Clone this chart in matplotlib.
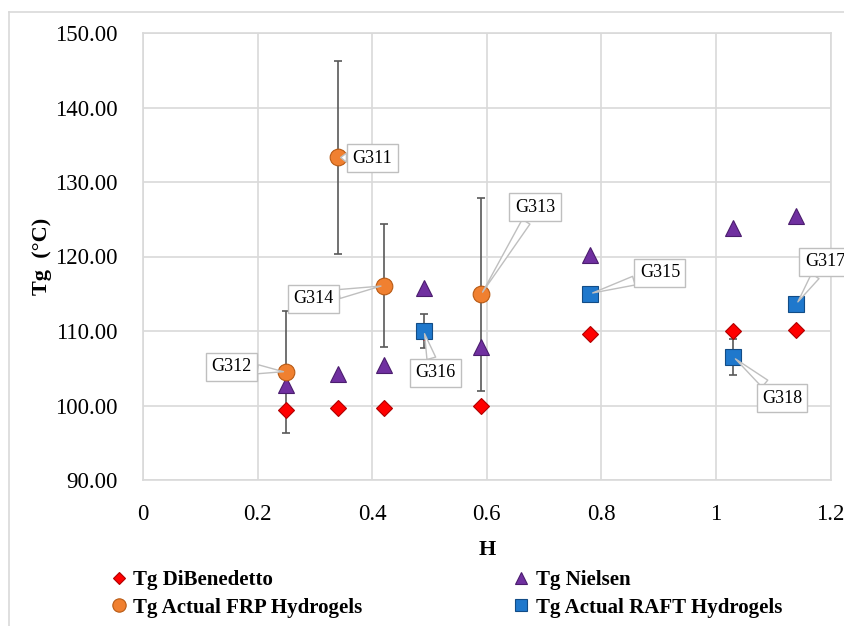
import matplotlib
matplotlib.use("Agg")
import matplotlib.pyplot as plt
from matplotlib.lines import Line2D
from matplotlib.ticker import FormatStrFormatter, FuncFormatter

plt.rcParams['font.family'] = ['Liberation Serif', 'DejaVu Serif']

# data
h_dib = [0.25, 0.34, 0.42, 0.49, 0.59, 0.78, 1.03, 1.14]
tg_dib = [99.4, 99.7, 99.7, 109.9, 100.0, 109.6, 110.0, 110.1]

h_niel = [0.25, 0.34, 0.42, 0.49, 0.59, 0.78, 1.03, 1.14]
tg_niel = [102.8, 104.2, 105.5, 115.8, 107.9, 120.2, 123.8, 125.4]

h_frp = [0.25, 0.34, 0.42, 0.59]
tg_frp = [104.5, 133.3, 116.1, 114.9]
err_frp = [8.2, 13.0, 8.2, 13.0]
names_frp = ['G312', 'G311', 'G314', 'G313']

h_raft = [0.49, 0.78, 1.03, 1.14]
tg_raft = [110.0, 115.0, 106.5, 113.6]
err_raft = [2.3, 0.0, 2.4, 0.0]
names_raft = ['G316', 'G315', 'G318', 'G317']

# where the callout boxes sit (data coords)
box_frp = [(0.155, 105.2), (0.40, 133.2), (0.297, 114.3), (0.684, 126.6)]
box_raft = [(0.51, 104.4), (0.902, 117.8), (1.115, 101.0), (1.19, 119.3)]

fig = plt.figure(figsize=(8.45, 6.26), dpi=100)
ax = fig.add_axes([143/845, 1-480/626, 687.7/845, 447/626])

grid_c = '#D9D9D9'
err_c = '#595959'

ax.errorbar(h_frp, tg_frp, yerr=err_frp, fmt='none', ecolor=err_c, elinewidth=1.2,
            capsize=3, capthick=1.2, zorder=2)
ax.errorbar(h_raft, tg_raft, yerr=err_raft, fmt='none', ecolor=err_c, elinewidth=1.2,
            capsize=3, capthick=1.2, zorder=2)

l1, = ax.plot(h_dib, tg_dib, 'D', ms=8, mfc='#FF0000', mec='#B00000', mew=0.8,
              ls='none', zorder=3, label='Tg DiBenedetto')
l2, = ax.plot(h_niel, tg_niel, '^', ms=11.5, mfc='#7030A0', mec='#4B1D6E', mew=0.8,
              ls='none', zorder=4, label='Tg Nielsen')
l3, = ax.plot(h_frp, tg_frp, 'o', ms=12, mfc='#F08030', mec='#B85A14', mew=0.8,
              ls='none', zorder=5, label='Tg Actual FRP Hydrogels')
l4, = ax.plot(h_raft, tg_raft, 's', ms=11.5, mfc='#1F78CC', mec='#124C86', mew=0.8,
              ls='none', zorder=6, label='Tg Actual RAFT Hydrogels')

bbox = dict(boxstyle='square,pad=0.3', fc='white', ec='#BFBFBF', lw=1)
arrow = dict(arrowstyle='wedge,tail_width=0.5,shrink_factor=0.5', fc='white',
             ec='#BFBFBF', lw=1, shrinkA=0, shrinkB=2)
for xs, ys, names, boxes in [(h_frp, tg_frp, names_frp, box_frp),
                             (h_raft, tg_raft, names_raft, box_raft)]:
    for x, y, name, b in zip(xs, ys, names, boxes):
        ax.annotate(name, xy=(x, y), xytext=b, ha='center', va='center',
                    fontsize=13, bbox=bbox, arrowprops=arrow, zorder=7,
                    annotation_clip=False)

ax.set_xlim(0, 1.2)
ax.set_ylim(90, 150)
ax.set_xticks([0, 0.2, 0.4, 0.6, 0.8, 1.0, 1.2])
ax.xaxis.set_major_formatter(FuncFormatter(lambda v, p: f'{v:g}'))
ax.set_yticks(range(90, 151, 10))
ax.yaxis.set_major_formatter(FormatStrFormatter('%.2f'))
ax.tick_params(length=0, labelsize=16.5)
ax.tick_params(axis='y', pad=18)
ax.tick_params(axis='x', pad=17)
ax.grid(True, color=grid_c, lw=1.2)
ax.set_axisbelow(True)
for s in ax.spines.values():
    s.set_color(grid_c)
    s.set_linewidth(1.2)

ax.set_xlabel('H', fontsize=16, fontweight='bold')
ax.xaxis.set_label_coords(0.5, -0.135)
ax.set_ylabel('Tg  (°C)', fontsize=16, fontweight='bold')
ax.yaxis.set_label_coords(-0.133, 0.5)

fig.legend([l1, l3, l2, l4], [l1.get_label(), l3.get_label(), l2.get_label(), l4.get_label()],
           ncol=2, loc='upper left', bbox_to_anchor=(100/845, 1-560/626),
           frameon=False, prop={'size': 15, 'weight': 'bold'}, handlelength=0.8,
           handletextpad=0.3, columnspacing=7.2, labelspacing=0.35, borderpad=0,
           markerscale=0.8)

# outer chart frame
fig.add_artist(Line2D([9/845, 9/845], [0, 1-12/626], transform=fig.transFigure,
                      color=grid_c, lw=1.2))
fig.add_artist(Line2D([9/845, 1], [1-12/626, 1-12/626], transform=fig.transFigure,
                      color=grid_c, lw=1.2))

fig.savefig('out.png', dpi=100)
